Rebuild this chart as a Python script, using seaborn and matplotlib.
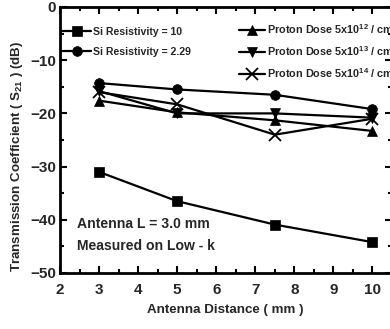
import numpy as np
import pandas as pd
import matplotlib
matplotlib.use("Agg")
import matplotlib.pyplot as plt
import seaborn as sns
from matplotlib import font_manager as fm
from matplotlib.ticker import MultipleLocator

# ---- data ----
distance = [3, 5, 7.5, 10]
si_res_10 = [-31.0, -36.5, -40.9, -44.2]
si_res_229 = [-14.3, -15.5, -16.5, -19.2]
dose_5e12 = [-17.6, -19.8, -21.3, -23.3]
dose_5e13 = [-15.8, -20.0, -20.0, -20.8]
dose_5e14 = [-16.0, -18.3, -24.0, -21.0]

labels_left = ["Si Resistivity = 10", "Si Resistivity = 2.29"]
labels_right = [r"Proton Dose 5x10$^{12}$ / cm$^{2}$",
                r"Proton Dose 5x10$^{13}$ / cm$^{2}$",
                r"Proton Dose 5x10$^{14}$ / cm$^{2}$"]
x_ticks = [2, 3, 4, 5, 6, 7, 8, 9, 10]
y_ticks = [0, -10, -20, -30, -40, -50]

sns.set_theme(style="ticks")
names = {f.name for f in fm.fontManager.ttflist}
narrow = "Liberation Sans Narrow" if "Liberation Sans Narrow" in names else None
base = "Liberation Sans"
scale = 1.0 if narrow else 0.84
nfam = narrow if narrow else base
plt.rcParams["font.family"] = [base, "DejaVu Sans"]
plt.rcParams["font.weight"] = "bold"
plt.rcParams["mathtext.fontset"] = "custom"
plt.rcParams["mathtext.rm"] = nfam + ":bold"
plt.rcParams["mathtext.it"] = nfam + ":bold"
plt.rcParams["mathtext.bf"] = nfam + ":bold"
plt.rcParams["mathtext.default"] = "rm"

fig = plt.figure(figsize=(3.9, 3.29), dpi=100)
ax = fig.add_axes([60/390, (329-273)/329, 332/390, 266/329])

series = [
    (si_res_10, labels_left[0], "s", 6.5, "full"),
    (si_res_229, labels_left[1], "o", 7, "full"),
    (dose_5e12, labels_right[0], "^", 7, "full"),
    (dose_5e13, labels_right[1], "v", 7, "full"),
    (dose_5e14, labels_right[2], "x", 8, "none"),
]
handles = []
for vals, lab, mk, ms, fs in series:
    df = pd.DataFrame({"d": distance, "v": vals})
    sns.lineplot(data=df, x="d", y="v", ax=ax, color="black", lw=1.6,
                 marker=mk, markersize=ms, markeredgewidth=1.3 if mk == "x" else 0.5,
                 markeredgecolor="black", markerfacecolor="black", label=lab)
    handles.append(ax.lines[-1])
if ax.get_legend():
    ax.get_legend().remove()

ax.set_xlim(2, 10.5)
ax.set_ylim(-50, 0)
ax.set_xticks(x_ticks)
ax.set_yticks(y_ticks)
ax.xaxis.set_minor_locator(MultipleLocator(0.5))
ax.yaxis.set_minor_locator(MultipleLocator(5))
ax.tick_params(which="both", direction="in", top=True, right=True, width=1.5, color="black")
ax.tick_params(which="major", length=5)
ax.tick_params(which="minor", length=3)
ax.tick_params(axis="x", which="major", pad=7, labelsize=11)
ax.tick_params(axis="y", which="major", pad=3, labelsize=11)
for lab in ax.get_xticklabels() + ax.get_yticklabels():
    lab.set_fontweight("bold")
for sp in ax.spines.values():
    sp.set_linewidth(2)
    sp.set_color("black")
ax.set_xlabel("")
ax.set_ylabel("")

fig.text(17/390, 1-156/329, r"Transmission Coefficient ( S$_{21}$ ) (dB)", rotation=90,
         ha="center", va="center", fontsize=11.5*scale, fontweight="bold", family=nfam)
fig.text(225/390, 1-310/329, "Antenna Distance ( mm )", ha="center", va="center",
         fontsize=11.5*scale, fontweight="bold", family=nfam)

ax.text(17/332, (273-224)/266, "Antenna L = 3.0 mm", transform=ax.transAxes, ha="left",
        va="center", fontsize=12*scale, fontweight="bold", family=nfam)
ax.text(17/332, (273-246)/266, "Measured on Low - k", transform=ax.transAxes, ha="left",
        va="center", fontsize=12*scale, fontweight="bold", family=nfam)

lp = dict(frameon=False, borderpad=0, borderaxespad=0, handletextpad=0.15, loc="upper left")
leg1 = ax.legend(handles[:2], labels_left, bbox_to_anchor=(2/332, 1-(27-7)/266),
                 prop={"family": nfam, "weight": "bold", "size": 9*scale},
                 handlelength=2.8, labelspacing=0.95, **lp)
ax.add_artist(leg1)
leg2 = ax.legend(handles[2:], labels_right, bbox_to_anchor=(179/332, 1-(22-7)/266),
                 prop={"family": nfam, "weight": "bold", "size": 9.3*scale},
                 handlelength=2.4, labelspacing=0.75, **lp)

fig.savefig("out.png", dpi=100)
